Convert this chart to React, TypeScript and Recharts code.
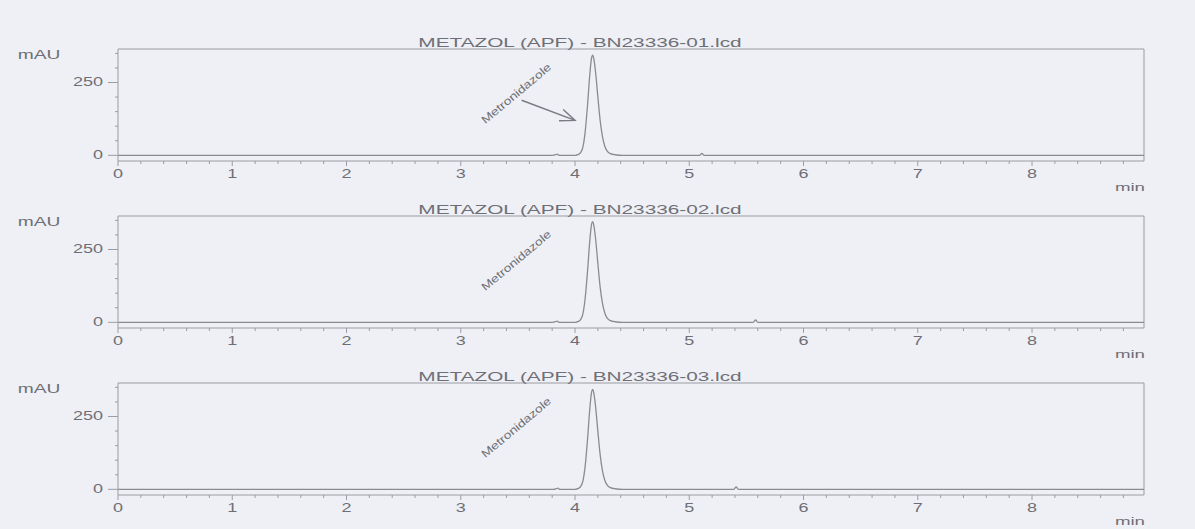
import React from "react";
import { LineChart, Line, XAxis, YAxis, ReferenceLine, ReferenceDot } from "recharts";

// retention time (min) and absorbance (mAU)
const times1 = [0, 3.8, 3.83, 3.845, 3.86, 4.0, 4.03, 4.05, 4.07, 4.09, 4.11, 4.13, 4.145, 4.155, 4.165, 4.18, 4.2, 4.22, 4.24, 4.26, 4.28, 4.31, 4.35, 4.42, 5.09, 5.11, 5.13, 8.98];
const signal1 = [0, 0, 2, 4, 0, 0, 3, 10, 30, 85, 175, 280, 335, 344, 330, 285, 200, 120, 65, 32, 15, 6, 2, 0, 0, 7, 0, 0];

const times2 = [0, 3.8, 3.83, 3.845, 3.86, 4.0, 4.03, 4.05, 4.07, 4.09, 4.11, 4.13, 4.145, 4.155, 4.165, 4.18, 4.2, 4.22, 4.24, 4.26, 4.28, 4.31, 4.35, 4.42, 5.56, 5.58, 5.6, 8.98];
const signal2 = [0, 0, 2, 4, 0, 0, 3, 10, 31, 87, 178, 283, 337, 346, 332, 287, 202, 121, 66, 33, 15, 6, 2, 0, 0, 8, 0, 0];

const times3 = [0, 3.81, 3.835, 3.85, 3.865, 4.0, 4.03, 4.05, 4.07, 4.09, 4.11, 4.13, 4.145, 4.155, 4.165, 4.18, 4.2, 4.22, 4.24, 4.26, 4.28, 4.31, 4.35, 4.42, 5.39, 5.41, 5.43, 8.98];
const signal3 = [0, 0, 2, 4, 0, 0, 3, 10, 30, 84, 174, 279, 334, 343, 329, 284, 199, 119, 64, 32, 15, 6, 2, 0, 0, 8, 0, 0];

const titles = [
  "METAZOL (APF) - BN23336-01.lcd",
  "METAZOL (APF) - BN23336-02.lcd",
  "METAZOL (APF) - BN23336-03.lcd",
];

const peakName = "Metronidazole";

const xMajorTicks = [0, 1, 2, 3, 4, 5, 6, 7, 8];
const xTicks = [
  0, 0.2, 0.4, 0.6, 0.8, 1, 1.2, 1.4, 1.6, 1.8, 2, 2.2, 2.4, 2.6, 2.8, 3, 3.2, 3.4, 3.6, 3.8,
  4, 4.2, 4.4, 4.6, 4.8, 5, 5.2, 5.4, 5.6, 5.8, 6, 6.2, 6.4, 6.6, 6.8, 7, 7.2, 7.4, 7.6, 7.8,
  8, 8.2, 8.4, 8.6, 8.8,
];
const yMajorTicks = [0, 250];
const yTicks = [0, 50, 100, 150, 200, 250, 300, 350];

const X_MAX = 8.98;
const Y_MIN = -19.5;
const Y_MAX = 365;

const BG = "#eff0f5";
const AXIS = "#9b9ca3";
const LINE = "#8a8b91";
const TEXT = "#6e6f76";
const FONT = "'Liberation Sans', Arial, sans-serif";

const toRows = (t: number[], v: number[]) => t.map((x, i) => ({ t: x, v: v[i] }));

const XTick = (p: any) => {
  const { x, y, payload } = p;
  const major = xMajorTicks.includes(payload.value);
  return (
    <g>
      <line x1={x} x2={x} y1={y} y2={y + (major ? 5 : 3)} stroke={AXIS} />
      {major && (
        <text transform={`translate(${x},${y + 17}) scale(1.5,1)`} textAnchor="middle" fontSize={12} fill={TEXT} fontFamily={FONT}>
          {payload.value}
        </text>
      )}
    </g>
  );
};

const YTick = (p: any) => {
  const { x, y, payload } = p;
  const major = yMajorTicks.includes(payload.value);
  return (
    <g>
      <line x1={x - (major ? 10 : 3)} x2={x} y1={y} y2={y} stroke={AXIS} />
      {major && (
        <text transform={`translate(${x - 15},${y + 4}) scale(1.5,1)`} textAnchor="end" fontSize={12} fill={TEXT} fontFamily={FONT}>
          {payload.value}
        </text>
      )}
    </g>
  );
};

const PeakLabel = (p: any) => (
  <text
    x={p.cx}
    y={p.cy}
    transform={`rotate(-40, ${p.cx}, ${p.cy})`}
    textAnchor="middle"
    dominantBaseline="middle"
    fontSize={11}
    fill={TEXT}
    fontFamily={FONT}
    textLength={87}
    lengthAdjust="spacingAndGlyphs"
  >
    {peakName}
  </text>
);

const Arrow = (p: any) => {
  const { x1, y1, x2, y2 } = p;
  const a = Math.atan2(y2 - y1, x2 - x1);
  const len = 16;
  const spread = 0.38;
  const h1x = x2 - len * Math.cos(a - spread);
  const h1y = y2 - len * Math.sin(a - spread);
  const h2x = x2 - len * Math.cos(a + spread);
  const h2y = y2 - len * Math.sin(a + spread);
  return (
    <g stroke="#7a7b82" strokeWidth={1.4} fill="none">
      <line x1={x1} y1={y1} x2={x2} y2={y2} />
      <polyline points={`${h1x},${h1y} ${x2},${y2} ${h2x},${h2y}`} />
    </g>
  );
};

function Panel({ top, rows, title, arrow }: { top: number; rows: { t: number; v: number }[]; title: string; arrow: boolean }) {
  return (
    <div style={{ position: "absolute", left: 0, top, width: 1195, height: 200 }}>
      <LineChart width={1195} height={200} data={rows} margin={{ top: 49, right: 51, bottom: 0, left: 0 }}>
        <XAxis
          dataKey="t"
          type="number"
          domain={[0, X_MAX]}
          ticks={xTicks}
          interval={0}
          allowDataOverflow
          height={39}
          tickSize={0}
          tickMargin={0}
          tickLine={false}
          axisLine={{ stroke: AXIS }}
          tick={XTick}
        />
        <YAxis
          type="number"
          domain={[Y_MIN, Y_MAX]}
          ticks={yTicks}
          interval={0}
          allowDataOverflow
          width={118}
          tickSize={0}
          tickMargin={0}
          tickLine={false}
          axisLine={{ stroke: AXIS }}
          tick={YTick}
        />
        <ReferenceLine y={Y_MAX} stroke={AXIS} ifOverflow="visible" />
        <ReferenceLine x={X_MAX} stroke={AXIS} ifOverflow="visible" />
        <Line dataKey="v" type="monotone" stroke={LINE} strokeWidth={1.3} dot={false} isAnimationActive={false} />
        <ReferenceDot x={3.49} y={210} r={0} shape={PeakLabel} ifOverflow="visible" />
        {arrow && (
          <ReferenceLine
            segment={[
              { x: 3.533, y: 189 },
              { x: 4.0, y: 120 },
            ]}
            shape={Arrow}
            ifOverflow="visible"
          />
        )}
      </LineChart>
      <svg width={1195} height={200} style={{ position: "absolute", left: 0, top: 0, pointerEvents: "none" }}>
        <text transform="translate(580,47) scale(1.6,1)" textAnchor="middle" fontSize={13} fill={TEXT} fontFamily={FONT}>
          {title}
        </text>
        <text transform="translate(39,59) scale(1.6,1)" textAnchor="middle" fontSize={12} fill={TEXT} fontFamily={FONT}>
          mAU
        </text>
        <text transform="translate(1145,191) scale(1.7,1)" textAnchor="end" fontSize={11} fill={TEXT} fontFamily={FONT}>
          min
        </text>
      </svg>
    </div>
  );
}

export default function App() {
  return (
    <div style={{ position: "absolute", left: 0, top: 0, width: 1195, height: 529, background: BG, overflow: "hidden" }}>
      <Panel top={0} rows={toRows(times1, signal1)} title={titles[0]} arrow />
      <Panel top={167} rows={toRows(times2, signal2)} title={titles[1]} arrow={false} />
      <Panel top={334} rows={toRows(times3, signal3)} title={titles[2]} arrow={false} />
    </div>
  );
}
